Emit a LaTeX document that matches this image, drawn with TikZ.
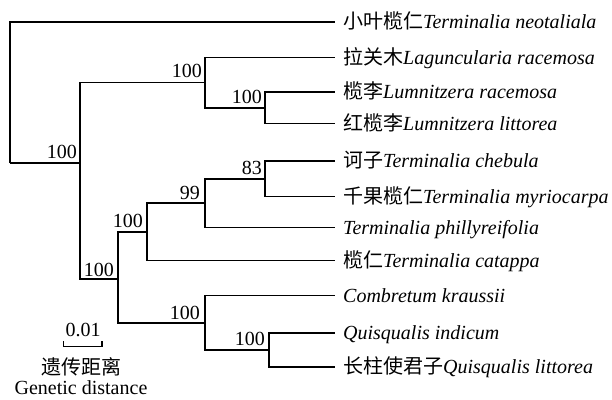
\documentclass[tikz,border=0pt]{standalone}
\usepackage{fontspec}
\setmainfont{Liberation Serif}
\newfontfamily\cjk{Noto Sans CJK SC}
\begin{document}
\begin{tikzpicture}[x=1pt,y=-1pt,
  branch/.style={line width=1.5pt,line join=miter},
  leaflab/.style={anchor=base west,inner sep=0pt},
  support/.style={anchor=base east,inner sep=0pt},
  every node/.style={font=\fontsize{20pt}{24pt}\selectfont}]
\useasboundingbox (0,0) rectangle (612,399);

% internal nodes of the tree
\coordinate (r)  at (10,163);
\coordinate (na) at (80,163);
\coordinate (nb) at (205,82.6);
\coordinate (nc) at (265,107.75);
\coordinate (nd) at (118,279);
\coordinate (ne) at (147,231.8);
\coordinate (nf) at (205,203.1);
\coordinate (ng) at (265,178.75);
\coordinate (nh) at (205,322.75);
\coordinate (ni) at (269,350);

% branch tips
\foreach \i/\y in {1/22,2/57.5,3/92,4/123.5,5/161,6/196.5,7/227.5,8/260.5,9/295.5,10/333,11/367}
  \coordinate (l\i) at (335,\y);

% taxon labels
\node[leaflab] (t1)  at ([xshift=8pt,yshift=-6.5pt]l1)  {{\cjk 小叶榄仁}\textit{Terminalia neotaliala}};
\node[leaflab] (t2)  at ([xshift=8pt,yshift=-6.5pt]l2)  {{\cjk 拉关木}\textit{Laguncularia racemosa}};
\node[leaflab] (t3)  at ([xshift=8pt,yshift=-6.5pt]l3)  {{\cjk 榄李}\textit{Lumnitzera racemosa}};
\node[leaflab] (t4)  at ([xshift=8pt,yshift=-6.5pt]l4)  {{\cjk 红榄李}\textit{Lumnitzera littorea}};
\node[leaflab] (t5)  at ([xshift=8pt,yshift=-6.5pt]l5)  {{\cjk 诃子}\textit{Terminalia chebula}};
\node[leaflab] (t6)  at ([xshift=8pt,yshift=-6.5pt]l6)  {{\cjk 千果榄仁}\textit{Terminalia myriocarpa}};
\node[leaflab] (t7)  at ([xshift=8pt,yshift=-6.5pt]l7)  {\textit{Terminalia phillyreifolia}};
\node[leaflab] (t8)  at ([xshift=8pt,yshift=-6.5pt]l8)  {{\cjk 榄仁}\textit{Terminalia catappa}};
\node[leaflab] (t9)  at ([xshift=8pt,yshift=-6.5pt]l9)  {\textit{Combretum kraussii}};
\node[leaflab] (t10) at ([xshift=8pt,yshift=-6.5pt]l10) {\textit{Quisqualis indicum}};
\node[leaflab] (t11) at ([xshift=8pt,yshift=-6.5pt]l11) {{\cjk 长柱使君子}\textit{Quisqualis littorea}};

% branches
\draw[branch] (r) |- (l1);
\draw[branch] (r) |- (na);
\draw[branch] (na) |- (nb);
\draw[branch] (na) |- (nd);
\draw[branch] (nb) |- (l2);
\draw[branch] (nb) |- (nc);
\draw[branch] (nc) |- (l3);
\draw[branch] (nc) |- (l4);
\draw[branch] (nd) |- (ne);
\draw[branch] (nd) |- (nh);
\draw[branch] (ne) |- (nf);
\draw[branch] (ne) |- (l8);
\draw[branch] (nf) |- (ng);
\draw[branch] (nf) |- (l7);
\draw[branch] (ng) |- (l5);
\draw[branch] (ng) |- (l6);
\draw[branch] (nh) |- (l9);
\draw[branch] (nh) |- (ni);
\draw[branch] (ni) |- (l10);
\draw[branch] (ni) |- (l11);

% bootstrap support values
\node[support] (sa) at ([xshift=-3pt,yshift=4.5pt]na) {100};
\node[support] (sb) at ([xshift=-3pt,yshift=5pt]nb) {100};
\node[support] (sc) at ([xshift=-3pt,yshift=4pt]nc) {100};
\node[support] (sd) at ([xshift=-4pt,yshift=3pt]nd) {100};
\node[support] (se) at ([xshift=-4pt,yshift=4pt]ne) {100};
\node[support] (sf) at ([xshift=-5pt,yshift=4pt]nf) {99};
\node[support] (sg) at ([xshift=-3pt,yshift=4pt]ng) {83};
\node[support] (sh) at ([xshift=-5pt,yshift=3pt]nh) {100};
\node[support] (si) at ([xshift=-4pt,yshift=5pt]ni) {100};

% scale bar
\coordinate (s1) at (63.5,341);
\coordinate (s2) at (102,341);
\draw[line width=1.1pt] (s1) -- ++(0,5.5) -| (s2);
\node[anchor=base,inner sep=0pt] (sv) at (83,336.7) {0.01};
\node[inner sep=0pt] (sz) at (81,367) {\cjk 遗传距离};
\node[anchor=base,inner sep=0pt] (se2) at (81,394.5) {Genetic distance};
\end{tikzpicture}
\end{document}
